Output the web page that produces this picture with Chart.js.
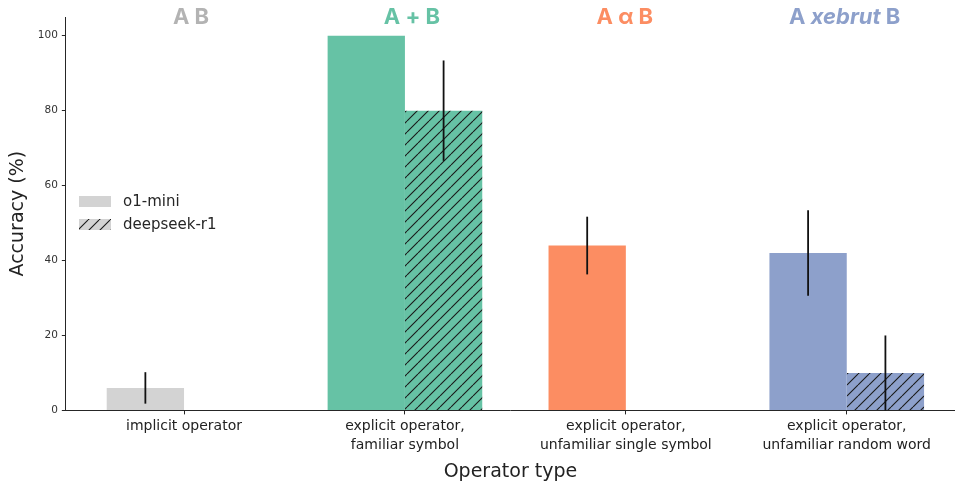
<!DOCTYPE html>
<html>
<head>
<meta charset="utf-8">
<script src="https://cdn.jsdelivr.net/npm/chart.js@4.4.1/dist/chart.umd.min.js"></script>
<style>
  html, body { margin: 0; padding: 0; background: #ffffff; overflow: hidden; }
  #wrap { width: 955px; height: 486px; }
</style>
</head>
<body>
<div id="wrap"><canvas id="chart" width="955" height="486"></canvas></div>
<script>
// Operator types on the x axis (one group per position)
const groupPositions = [0, 1, 2, 3];
const tickLabels = [
  ['implicit operator'],
  ['explicit operator,', 'familiar symbol'],
  ['explicit operator,', 'unfamiliar single symbol'],
  ['explicit operator,', 'unfamiliar random word']
];

// Accuracy (%) per model, with symmetric error half-widths
const o1Mini = [6, 100, 44, 42];
const o1MiniErr = [4.2, 0, 7.7, 11.4];
const deepseekR1 = [0, 80, 0, 10];
const deepseekR1Err = [0, 13.4, 0, 10];

const seriesNames = ['o1-mini', 'deepseek-r1'];
const yTicks = [0, 20, 40, 60, 80, 100];

// Group headers: [text, italic] segments
const headers = [
  [['A B', false]],
  [['A + B', false]],
  [['A \u03B1 B', false]],
  [['A ', false], ['xebrut', true], [' B', false]]
];

const barColors = ['#d3d3d3', '#66c2a5', '#fc8d62', '#8da0cb'];
const headerColors = ['#b3b3b3', '#66c2a5', '#fc8d62', '#8da0cb'];
const headerShift = [7, 7, -1, -2];
const inkColor = '#262626';

// Diagonal "//" hatch over a solid fill
function hatch(fill) {
  const s = 11;
  const c = document.createElement('canvas');
  c.width = s; c.height = s;
  const g = c.getContext('2d');
  g.fillStyle = fill;
  g.fillRect(0, 0, s, s);
  g.strokeStyle = '#1a1a1a';
  g.lineWidth = 1.1;
  g.beginPath();
  for (const off of [-s, 0, s]) {
    g.moveTo(off, s);
    g.lineTo(off + s, 0);
  }
  g.stroke();
  return g.createPattern(c, 'repeat');
}

const toPoints = vals => vals.map((v, i) => ({ x: groupPositions[i], y: v }));

// Vertical error bars centred on each bar
const errorBars = {
  id: 'errorBars',
  afterDatasetsDraw(chart) {
    const ctx = chart.ctx;
    const y = chart.scales.y;
    const errs = [o1MiniErr, deepseekR1Err];
    const vals = [o1Mini, deepseekR1];
    ctx.save();
    ctx.strokeStyle = '#111111';
    ctx.lineWidth = 1.8;
    errs.forEach((errArr, d) => {
      const meta = chart.getDatasetMeta(d);
      errArr.forEach((e, i) => {
        if (!e) return;
        const bar = meta.data[i];
        const lo = Math.max(0, vals[d][i] - e);
        const hi = vals[d][i] + e;
        ctx.beginPath();
        ctx.moveTo(bar.x, y.getPixelForValue(lo));
        ctx.lineTo(bar.x, y.getPixelForValue(hi));
        ctx.stroke();
      });
    });
    ctx.restore();
  }
};

// Coloured operator headers above each group
const groupHeaders = {
  id: 'groupHeaders',
  afterDraw(chart) {
    const ctx = chart.ctx;
    const x = chart.scales.x;
    const fontFor = it => (it ? 'italic ' : '') + '700 22px Inter, "Open Sans", sans-serif';
    ctx.save();
    ctx.textBaseline = 'middle';
    ctx.textAlign = 'left';
    headers.forEach((segs, i) => {
      let total = 0;
      segs.forEach(([t, it]) => { ctx.font = fontFor(it); total += ctx.measureText(t).width; });
      let cx = x.getPixelForValue(groupPositions[i]) + headerShift[i] - total / 2;
      ctx.fillStyle = headerColors[i];
      segs.forEach(([t, it]) => {
        ctx.font = fontFor(it);
        ctx.fillText(t, cx, 17);
        cx += ctx.measureText(t).width;
      });
    });
    ctx.restore();
  }
};

// Legend with a solid and a hatched patch
const customLegend = {
  id: 'customLegend',
  afterDraw(chart) {
    const ctx = chart.ctx;
    const fills = ['#d3d3d3', hatch('#d3d3d3')];
    ctx.save();
    ctx.font = '15px "DejaVu Sans", sans-serif';
    ctx.textBaseline = 'middle';
    ctx.textAlign = 'left';
    seriesNames.forEach((name, i) => {
      const top = 196 + i * 23;
      ctx.fillStyle = fills[i];
      ctx.fillRect(79, top, 32, 11);
      ctx.fillStyle = inkColor;
      ctx.fillText(name, 123, top + 6);
    });
    ctx.restore();
  }
};

new Chart(document.getElementById('chart'), {
  type: 'bar',
  data: {
    datasets: [
      {
        label: seriesNames[0],
        data: toPoints(o1Mini),
        backgroundColor: barColors,
        borderWidth: 0
      },
      {
        label: seriesNames[1],
        data: toPoints(deepseekR1),
        backgroundColor: barColors.map(hatch),
        borderWidth: 0
      }
    ]
  },
  options: {
    responsive: false,
    animation: false,
    devicePixelRatio: 1,
    categoryPercentage: 0.7,
    barPercentage: 1.0,
    layout: { padding: { top: 17, left: 7, right: 0, bottom: 3 } },
    plugins: {
      legend: { display: false },
      tooltip: { enabled: false }
    },
    scales: {
      x: {
        type: 'linear',
        offset: false,
        min: -0.535,
        max: 3.49,
        afterBuildTicks: s => { s.ticks = groupPositions.map(v => ({ value: v })); },
        grid: { offset: false, drawOnChartArea: false, drawTicks: true, tickLength: 4, color: inkColor },
        border: { display: true, color: inkColor, width: 1 },
        ticks: {
          autoSkip: false,
          maxRotation: 0,
          padding: 3,
          color: '#222222',
          font: { family: '"DejaVu Sans", sans-serif', size: 14, lineHeight: 1.35 },
          callback: (v, i) => tickLabels[i]
        },
        title: {
          display: true,
          text: 'Operator type',
          color: '#222222',
          font: { family: '"DejaVu Sans", sans-serif', size: 19, lineHeight: 1.2 },
          padding: { top: 2, bottom: 0 }
        }
      },
      y: {
        min: 0,
        max: 105,
        afterBuildTicks: s => { s.ticks = yTicks.map(v => ({ value: v })); },
        grid: { drawOnChartArea: false, drawTicks: true, tickLength: 4, color: inkColor },
        border: { display: true, color: inkColor, width: 1 },
        ticks: {
          padding: 4,
          color: '#333333',
          font: { family: '"DejaVu Sans", sans-serif', size: 10.5 }
        },
        title: {
          display: true,
          text: 'Accuracy (%)',
          color: '#222222',
          font: { family: '"DejaVu Sans", sans-serif', size: 19, lineHeight: 1.2 },
          padding: { top: 0, bottom: 4 }
        }
      }
    }
  },
  plugins: [errorBars, groupHeaders, customLegend]
});
</script>
</body>
</html>
